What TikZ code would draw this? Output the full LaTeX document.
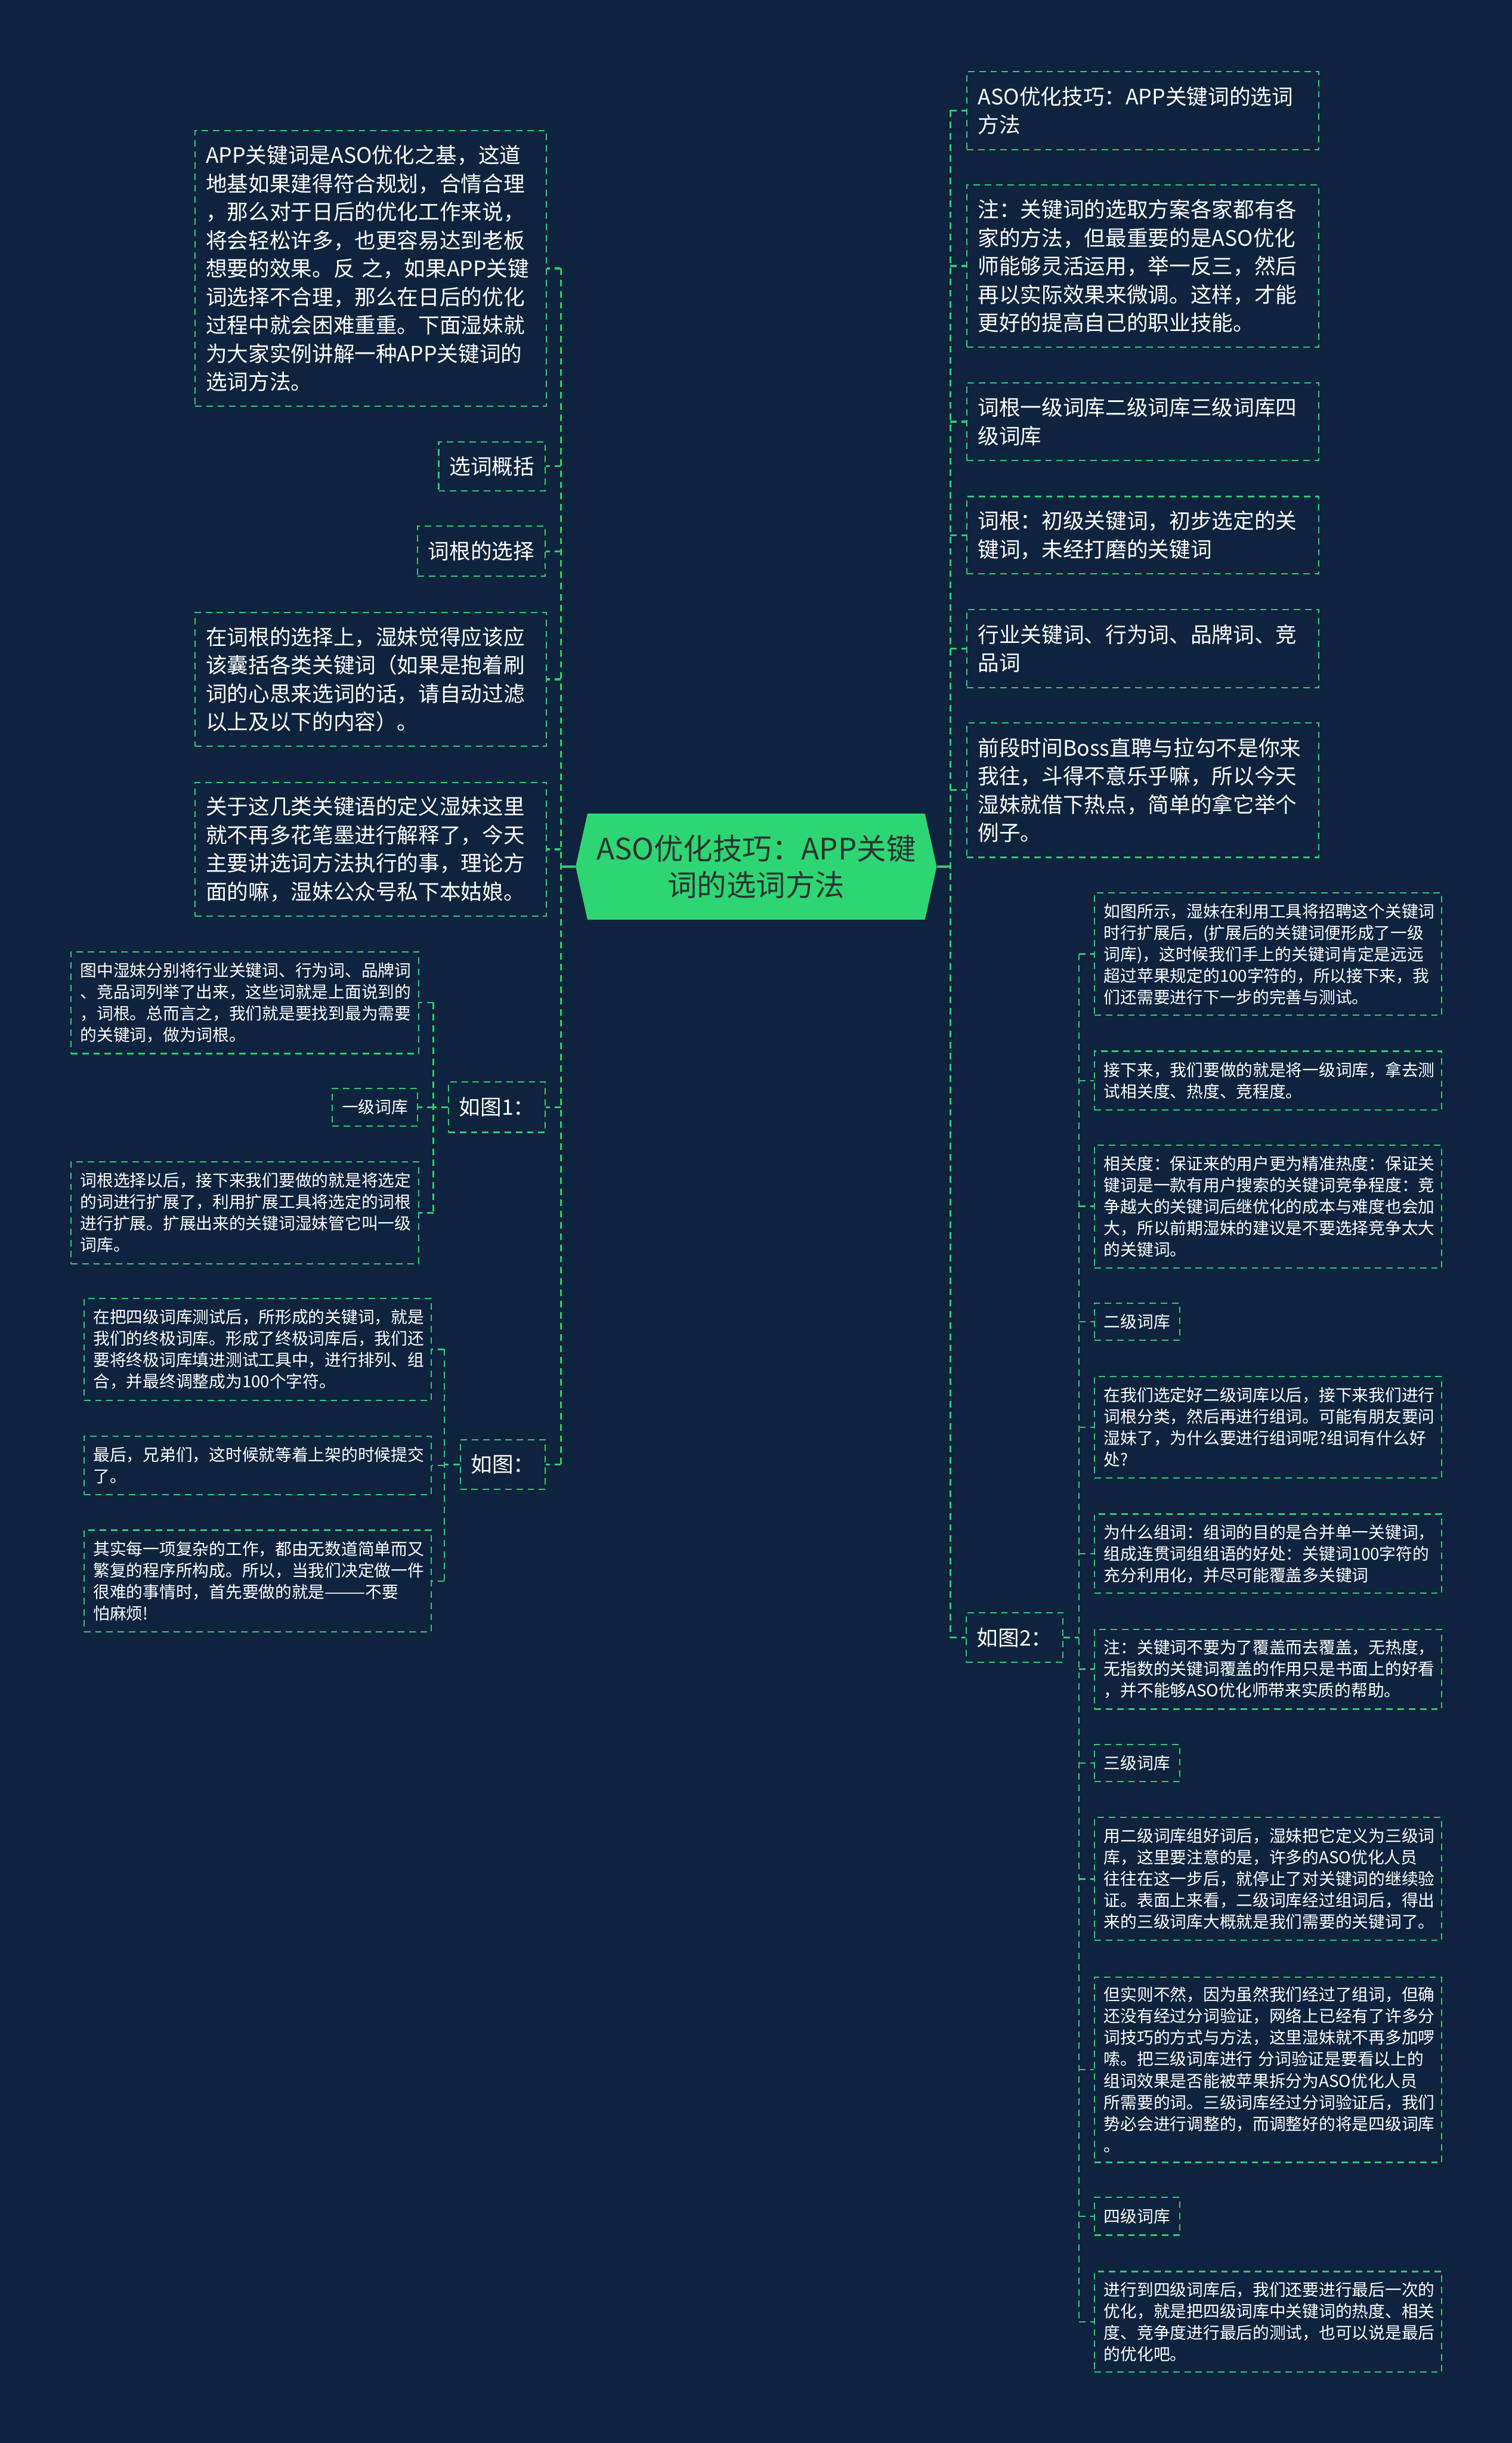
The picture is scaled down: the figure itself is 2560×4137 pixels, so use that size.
\documentclass[tikz,border=0pt]{standalone}
\usepackage{fontspec}
\setmainfont{Noto Sans CJK SC}
\usetikzlibrary{backgrounds}
\definecolor{bgc}{RGB}{14,35,62}
\definecolor{gr}{RGB}{46,204,113}
\definecolor{rootfill}{RGB}{46,213,115}
\definecolor{roottext}{RGB}{40,52,48}
\begin{document}
\begin{tikzpicture}[x=1pt,y=-1pt,
  bx/.style={draw=gr, line width=2.2pt, dash pattern=on 11pt off 8pt, text=white, align=left, anchor=north west, inner ysep=0pt},
  big/.style={bx, font=\fontsize{36}{48}\selectfont, inner xsep=18pt, text width=#1},
  sm/.style={bx, font=\fontsize{28}{36.4}\selectfont, inner xsep=16pt, text width=#1},
  lab/.style={draw=gr, line width=2.2pt, dash pattern=on 11pt off 8pt, text=white, inner xsep=18pt, inner ysep=0pt, font=\fontsize{36}{48}\selectfont},
  slab/.style={draw=gr, line width=2.2pt, dash pattern=on 11pt off 8pt, text=white, inner xsep=16pt, inner ysep=0pt, font=\fontsize{28}{36.4}\selectfont},
  lk1/.style={draw=gr, line width=3.5pt, dash pattern=on 11pt off 8pt},
  lk2/.style={draw=gr, line width=2.5pt, dash pattern=on 11pt off 8pt},
  rootlink/.style={draw=gr, line width=4pt}
]
\useasboundingbox (0,0) rectangle (2560,4137);
\begin{pgfonlayer}{background}
\fill[bgc] (0,0) rectangle (2560,4137);
\end{pgfonlayer}

% root
\node[font=\fontsize{50}{62}\selectfont, text=roottext, align=center, minimum width=611, minimum height=179, inner sep=0pt] (root) at (1280.5,1467.5) {ASO优化技巧：APP关键\\词的选词方法};
\begin{pgfonlayer}{background}
\fill[rootfill] (root.west) -- ([xshift=20pt]root.north west) -- ([xshift=-20pt]root.north east) -- (root.east) -- ([xshift=-20pt]root.south east) -- ([xshift=20pt]root.south west) -- cycle;
\end{pgfonlayer}

% ---------- left level 1 ----------
\node[big=558.5pt, minimum height=467] (a1) at (329.5,220) {APP关键词是ASO优化之基，这道\\地基如果建得符合规划，合情合理\\，那么对于日后的优化工作来说，\\将会轻松许多，也更容易达到老板\\想要的效果。反~之，如果APP关键\\词选择不合理，那么在日后的优化\\过程中就会困难重重。下面湿妹就\\为大家实例讲解一种APP关键词的\\选词方法。};
\node[lab, anchor=east, minimum height=83] (a2) at (924,789.5) {选词概括};
\node[lab, anchor=east, minimum height=85] (a3) at (924,933.5) {词根的选择};
\node[big=558.5pt, minimum height=226.5] (a4) at (329.5,1036) {在词根的选择上，湿妹觉得应该应\\该囊括各类关键词（如果是抱着刷\\词的心思来选词的话，请自动过滤\\以上及以下的内容）。};
\node[big=558.5pt, minimum height=226] (a5) at (329.5,1324) {关于这几类关键语的定义湿妹这里\\就不再多花笔墨进行解释了，今天\\主要讲选词方法执行的事，理论方\\面的嘛，湿妹公众号私下本姑娘。};
\node[lab, anchor=east, minimum height=85] (a6) at (924.5,1875) {如图1：};
\node[lab, anchor=east, minimum height=84.5] (a7) at (924.5,2480) {如图：};

% ---------- left level 2 (如图1) ----------
\node[sm=557pt, minimum height=172.4] (b1) at (119,1610.6) {图中湿妹分别将行业关键词、行为词、品牌词\\、竞品词列举了出来，这些词就是上面说到的\\，词根。总而言之，我们就是要找到最为需要\\的关键词，做为词根。};
\node[slab, anchor=east, minimum height=64] (b2) at (708,1875) {一级词库};
\node[sm=557pt, minimum height=172.2] (b3) at (119,1966.5) {词根选择以后，接下来我们要做的就是将选定\\的词进行扩展了，利用扩展工具将选定的词根\\进行扩展。扩展出来的关键词湿妹管它叫一级\\词库。};

% ---------- left level 2 (如图) ----------
\node[sm=556pt, minimum height=172] (c1) at (141,2198) {在把四级词库测试后，所形成的关键词，就是\\我们的终极词库。形成了终极词库后，我们还\\要将终极词库填进测试工具中，进行排列、组\\合，并最终调整成为100个字符。};
\node[sm=556pt, minimum height=99.3] (c2) at (141,2430.7) {最后，兄弟们，这时候就等着上架的时候提交\\了。};
\node[sm=556pt, minimum height=172.5] (c3) at (141,2590) {其实每一项复杂的工作，都由无数道简单而又\\繁复的程序所构成。所以，当我们决定做一件\\很难的事情时，首先要做的就是———不要\\怕麻烦!};

% ---------- right level 1 ----------
\node[big=558pt, inner xsep=19pt, minimum height=132] (d1) at (1636,120) {ASO优化技巧：APP关键词的选词\\方法};
\node[big=558pt, inner xsep=19pt, minimum height=274.6] (d2) at (1636,312) {注：关键词的选取方案各家都有各\\家的方法，但最重要的是ASO优化\\师能够灵活运用，举一反三，然后\\再以实际效果来微调。这样，才能\\更好的提高自己的职业技能。};
\node[big=558pt, inner xsep=19pt, minimum height=131.6] (d3) at (1636,647) {词根一级词库二级词库三级词库四\\级词库};
\node[big=558pt, inner xsep=19pt, minimum height=131] (d4) at (1636,839.7) {词根：初级关键词，初步选定的关\\键词，未经打磨的关键词};
\node[big=558pt, inner xsep=19pt, minimum height=132.6] (d5) at (1636,1031) {行业关键词、行为词、品牌词、竞\\品词};
\node[big=558pt, inner xsep=19pt, minimum height=227.7] (d6) at (1636,1223) {前段时间Boss直聘与拉勾不是你来\\我往，斗得不意乐乎嘛，所以今天\\湿妹就借下热点，简单的拿它举个\\例子。};
\node[lab, anchor=west, minimum height=84.3] (d7) at (1635,2773) {如图2：};

% ---------- right level 2 (如图2) ----------
\node[sm=556pt, minimum height=207] (e1) at (1852.4,1511) {如图所示，湿妹在利用工具将招聘这个关键词\\时行扩展后，(扩展后的关键词便形成了一级\\词库)，这时候我们手上的关键词肯定是远远\\超过苹果规定的100字符的，所以接下来，我\\们还需要进行下一步的完善与测试。};
\node[sm=556pt, minimum height=99.6] (e2) at (1852.4,1779) {接下来，我们要做的就是将一级词库，拿去测\\试相关度、热度、竞程度。};
\node[sm=556pt, minimum height=208] (e3) at (1852.4,1937.8) {相关度：保证来的用户更为精准热度：保证关\\键词是一款有用户搜索的关键词竞争程度：竞\\争越大的关键词后继优化的成本与难度也会加\\大，所以前期湿妹的建议是不要选择竞争太大\\的关键词。};
\node[slab, anchor=west, minimum height=62.8] (e4) at (1852.4,2238) {二级词库};
\node[sm=556pt, minimum height=172] (e5) at (1852.4,2329.6) {在我们选定好二级词库以后，接下来我们进行\\词根分类，然后再进行组词。可能有朋友要问\\湿妹了，为什么要进行组词呢?组词有什么好\\处?};
\node[sm=556pt, minimum height=134] (e6) at (1852.4,2562.8) {为什么组词：组词的目的是合并单一关键词，\\组成连贯词组组语的好处：关键词100字符的\\充分利用化，并尽可能覆盖多关键词};
\node[sm=556pt, minimum height=135] (e7) at (1852.4,2758) {注：关键词不要为了覆盖而去覆盖，无热度，\\无指数的关键词覆盖的作用只是书面上的好看\\，并不能够ASO优化师带来实质的帮助。};
\node[slab, anchor=west, minimum height=62.8] (e8) at (1852.4,2985.4) {三级词库};
\node[sm=556pt, minimum height=208] (e9) at (1852.4,3076.7) {用二级词库组好词后，湿妹把它定义为三级词\\库，这里要注意的是，许多的ASO优化人员\\往往在这一步后，就停止了对关键词的继续验\\证。表面上来看，二级词库经过组词后，得出\\来的三级词库大概就是我们需要的关键词了。};
\node[sm=556pt, minimum height=314] (e10) at (1852.4,3346.7) {但实则不然，因为虽然我们经过了组词，但确\\还没有经过分词验证，网络上已经有了许多分\\词技巧的方式与方法，这里湿妹就不再多加啰\\嗦。把三级词库进行~分词验证是要看以上的\\组词效果是否能被苹果拆分为ASO优化人员\\所需要的词。三级词库经过分词验证后，我们\\势必会进行调整的，而调整好的将是四级词库\\。};
\node[slab, anchor=west, minimum height=63.8] (e11) at (1852.4,3753) {四级词库};
\node[sm=556pt, minimum height=170.5] (e12) at (1852.4,3845.5) {进行到四级词库后，我们还要进行最后一次的\\优化，就是把四级词库中关键词的热度、相关\\度、竞争度进行最后的测试，也可以说是最后\\的优化吧。};

% ---------- connectors ----------
\draw[rootlink] (root.west) -- ++(-25,0) coordinate (ls);
\draw[lk1] (ls |- a1.east) -- (ls |- a7.east);
\foreach \n in {a1,a2,a3,a4,a5,a6,a7} \draw[lk1] (ls |- \n.east) -- (\n.east);

\draw[rootlink] (root.east) -- ++(23,0) coordinate (rs);
\draw[lk1] (rs |- d1.west) -- (rs |- d7.west);
\foreach \n in {d1,d2,d3,d4,d5,d6,d7} \draw[lk1] (rs |- \n.west) -- (\n.west);

\draw[lk2] (a6.west) -- ++(-24.4,0) coordinate (s6);
\draw[lk2] (s6 |- b1.east) -- (s6 |- b3.east);
\foreach \n in {b1,b2,b3} \draw[lk2] (s6 |- \n.east) -- (\n.east);

\draw[lk2] (a7.west) -- ++(-25.6,0) coordinate (s7);
\draw[lk2] (s7 |- c1.east) -- (s7 |- c3.east);
\foreach \n in {c1,c2,c3} \draw[lk2] (s7 |- \n.east) -- (\n.east);

\draw[lk2] (d7.east) -- ++(25.7,0) coordinate (s8);
\draw[lk2] (s8 |- e1.west) -- (s8 |- e12.west);
\foreach \n in {e1,e2,e3,e4,e5,e6,e7,e8,e9,e10,e11,e12} \draw[lk2] (s8 |- \n.west) -- (\n.west);
\end{tikzpicture}
\end{document}
